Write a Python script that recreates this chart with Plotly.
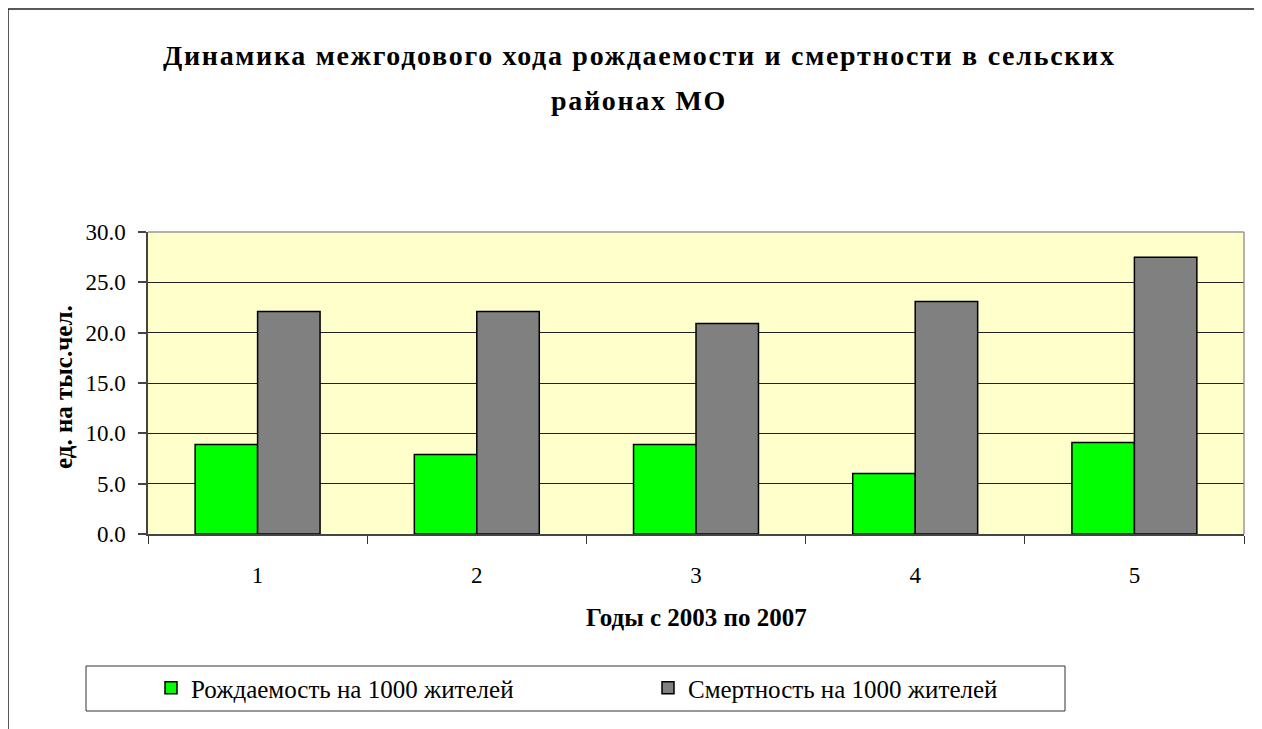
import plotly.graph_objects as go

years = [1, 2, 3, 4, 5]
births = [8.9, 7.9, 8.9, 6.0, 9.1]
deaths = [22.1, 22.1, 20.9, 23.1, 27.5]
series_names = ["Рождаемость на 1000 жителей", "Смертность на 1000 жителей"]
y_ticks = [0, 5, 10, 15, 20, 25, 30]

W, H = 1254, 721
OFF = 8  # page body margin
# plot area in figure pixel coordinates
L, R, T, B = 140, 1236, 224, 526

def px(x):  # screen x -> paper
    return (x - OFF - L) / (R - L)

def py(y):  # screen y -> paper
    return (B - (y - OFF)) / (B - T)

FONT = "Liberation Serif"

fig = go.Figure()
fig.add_trace(go.Bar(x=years, y=births, name=series_names[0],
                     marker=dict(color="#00FF00", line=dict(color="#000000", width=1.5))))
fig.add_trace(go.Bar(x=years, y=deaths, name=series_names[1],
                     marker=dict(color="#808080", line=dict(color="#000000", width=1.5))))

shapes = [
    # outer frame (top and left edges of the chart)
    dict(type="line", xref="paper", yref="paper", x0=px(8), x1=px(1300), y0=py(9), y1=py(9),
         line=dict(color="#222222", width=1.5)),
    dict(type="line", xref="paper", yref="paper", x0=px(8), x1=px(8), y0=py(9), y1=py(760),
         line=dict(color="#222222", width=1.5)),
    # plot top/right border
    dict(type="line", xref="paper", yref="paper", x0=0, x1=1, y0=1, y1=1,
         line=dict(color="#999999", width=1.5)),
    dict(type="line", xref="paper", yref="paper", x0=1, x1=1, y0=0, y1=1,
         line=dict(color="#999999", width=1.5)),
    # legend box
    dict(type="rect", xref="paper", yref="paper", x0=px(86), x1=px(1065), y0=py(666), y1=py(711),
         line=dict(color="#333333", width=1), fillcolor="rgba(0,0,0,0)"),
]

annotations = [
    dict(text="<span style='letter-spacing:1.7px'><b>Динамика межгодового хода рождаемости и смертности в сельских</b></span>",
         xref="paper", yref="paper", x=px(639), y=py(56), showarrow=False,
         font=dict(family=FONT, size=28, color="#000"), xanchor="center", yanchor="middle"),
    dict(text="<span style='letter-spacing:1.7px'><b>районах МО</b></span>",
         xref="paper", yref="paper", x=px(639), y=py(101), showarrow=False,
         font=dict(family=FONT, size=28, color="#000"), xanchor="center", yanchor="middle"),
    dict(text="<b>ед. на тыс.чел.</b>", textangle=-90,
         xref="paper", yref="paper", x=px(63), y=py(387), showarrow=False,
         font=dict(family=FONT, size=25, color="#000"), xanchor="center", yanchor="middle"),
    dict(text="<b>Годы с 2003 по 2007</b>",
         xref="paper", yref="paper", x=px(696), y=py(617), showarrow=False,
         font=dict(family=FONT, size=25, color="#000"), xanchor="center", yanchor="middle"),
]

fig.update_layout(
    width=W, height=H,
    margin=dict(l=L, r=W - R, t=T, b=H - B, pad=0),
    paper_bgcolor="#FFFFFF",
    plot_bgcolor="#FFFFCC",
    font=dict(family=FONT, size=23, color="#000"),
    barmode="group", bargap=0.43, bargroupgap=0,
    shapes=shapes, annotations=annotations,
    showlegend=True,
    legend=dict(orientation="h", x=px(151), y=py(688), xanchor="left", yanchor="middle",
                bgcolor="rgba(0,0,0,0)", borderwidth=0, entrywidth=452, entrywidthmode="pixels",
                font=dict(family=FONT, size=25, color="#000"), itemclick=False),
    xaxis=dict(range=[0.5, 5.5], tickvals=years, ticktext=[str(v) for v in years],
               ticks="", showgrid=False, zeroline=False,
               showline=True, linecolor="#444444", linewidth=1.5,
               tickfont=dict(family=FONT, size=23), ticklabelstandoff=20,
               minor=dict(tickvals=[0.5, 1.5, 2.5, 3.5, 4.5, 5.5], ticks="outside",
                          ticklen=8, tickcolor="#333333", tickwidth=1, showgrid=False)),
    yaxis=dict(range=[0, 30], tickvals=y_ticks, tickformat=".1f",
               ticks="outside", ticklen=8, tickcolor="#444444", tickwidth=1.5,
               showgrid=True, gridcolor="#222222", gridwidth=1, zeroline=False,
               showline=True, linecolor="#444444", linewidth=1.5,
               ticklabelstandoff=8,
               tickfont=dict(family=FONT, size=23)),
)

fig.write_html("out.html", config={"displayModeBar": False})
